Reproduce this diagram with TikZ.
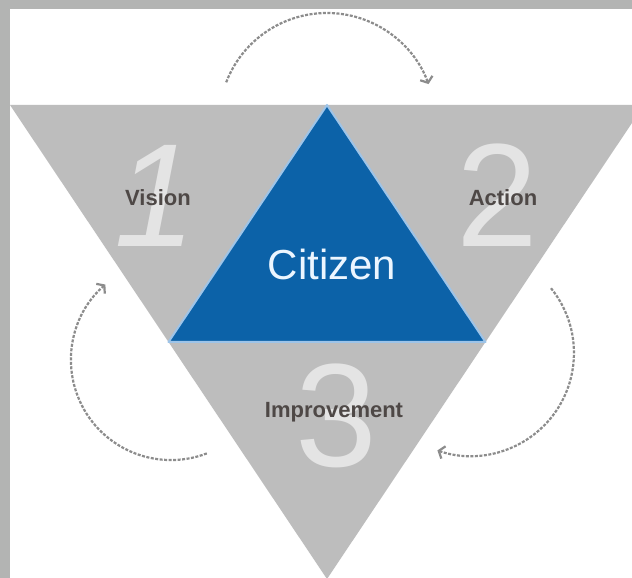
\documentclass[tikz,border=0pt]{standalone}
\usepackage{fontspec}
\setmainfont{Liberation Sans}
\usetikzlibrary{arrows.meta}
\definecolor{framegray}{RGB}{179,180,179}
\definecolor{trigray}{RGB}{189,189,189}
\definecolor{citizenblue}{RGB}{12,98,168}
\definecolor{edgeblue}{RGB}{158,196,232}
\definecolor{citizenwhite}{RGB}{236,246,255}
\definecolor{digitgray}{RGB}{228,228,228}
\definecolor{phasegray}{RGB}{78,72,70}
\definecolor{arrowgray}{RGB}{140,140,140}
\begin{document}
\begin{tikzpicture}[x=1pt,y=1pt,
  bignum/.style={text=digitgray,font=\fontsize{147}{147}\selectfont,anchor=base,inner sep=0pt},
  phase/.style={text=phasegray,font=\fontsize{22}{22}\selectfont\bfseries,anchor=base,inner sep=0pt},
  turn/.style={draw=arrowgray,line width=2.2pt,dash pattern=on 3pt off 1.5pt,-{Straight Barb[length=5pt,width=13pt]}}]
\useasboundingbox (0,0) rectangle (632,578);
\clip (0,0) rectangle (632,578);
\fill[white] (0,0) rectangle (632,578);
\fill[framegray] (0,0) rectangle (10,578);
\fill[framegray] (0,569) rectangle (632,578);
\fill[trigray] (10,473) -- (644,473) -- (327,-1) -- cycle;
\filldraw[fill=citizenblue,draw=edgeblue,line width=2pt,line join=round] (327,473) -- (168.5,236) -- (485.5,236) -- cycle;
\node[bignum] (one) at (155,331) {\itshape 1};
\node[bignum] (two) at (497,331) {2};
\node[bignum] (three) at (336,111) {3};
\node[phase] (vision) at (158,372) {Vision};
\node[phase] (action) at (503,372) {Action};
\node[phase] (improvement) at (334,160) {Improvement};
\node[text=citizenwhite,font=\fontsize{42}{42}\selectfont,anchor=base,inner sep=0pt] (citizen) at (332,298) {Citizen};
\coordinate (from one) at (226.2,495.7);
\coordinate (from two) at (551,289.8);
\coordinate (from three) at (206.8,124.6);
\draw[turn] (from one) arc[start angle=159,end angle=20,radius=108pt];
\draw[turn] (from two) arc[start angle=39,end angle=-109,radius=103pt];
\draw[turn] (from three) arc[start angle=-69,end angle=-229,radius=100pt];
\end{tikzpicture}
\end{document}
